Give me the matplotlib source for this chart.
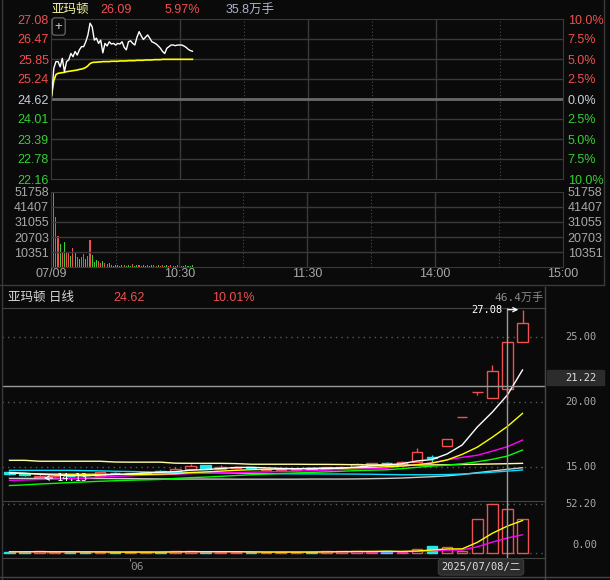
import matplotlib
matplotlib.use('Agg')
import matplotlib.pyplot as plt
from matplotlib.lines import Line2D
from matplotlib.patches import Rectangle

plt.rcParams['font.family'] = ['Liberation Sans', 'Noto Sans CJK SC', 'DejaVu Sans']
MONO = ['DejaVu Sans Mono', 'Noto Sans CJK SC']

BG = '#0a0a0a'
GRID = '#3a3a3a'
RED = '#ef5050'
GREEN = '#35d035'
CYAN = '#22e8e8'
GRAY = '#a8a8a8'

# ---- 分时数据 (07/09) ----
price_ticks = [27.08, 26.47, 25.85, 25.24, 24.62, 24.01, 23.39, 22.78, 22.16]
pct_labels = ['10.0%', '7.5%', '5.0%', '2.5%', '0.0%', '2.5%', '5.0%', '7.5%', '10.0%']
vol_ticks = [10351, 20703, 31055, 41407, 51758]
time_ticks = [0, 60, 120, 180, 240]
time_labels = ['07/09', '10:30', '11:30', '14:00', '15:00']

minute_price = [24.69, 25.56, 25.77, 25.77, 25.61, 25.87, 25.46, 25.77, 25.82, 26.02,
                25.92, 26.08, 25.97, 26.13, 26.23, 26.23, 26.38, 26.59, 26.95, 26.84,
                26.43, 26.49, 26.33, 26.43, 26.04, 26.33, 26.25, 26.38, 26.31, 26.33,
                26.28, 26.33, 26.31, 26.38, 26.21, 26.13, 26.38, 26.41, 26.33, 26.28,
                26.52, 26.69, 26.56, 26.45, 26.52, 26.59, 26.49, 26.38, 26.35, 26.31,
                26.25, 26.18, 26.08, 26.02, 26.18, 26.23, 26.28, 26.28, 26.26, 26.28,
                26.28, 26.28, 26.25, 26.21, 26.15, 26.11, 26.09]
minute_avg = [24.74, 25.18, 25.37, 25.41, 25.42, 25.43, 25.44, 25.46, 25.47, 25.48,
              25.49, 25.50, 25.51, 25.53, 25.54, 25.56, 25.59, 25.64, 25.71, 25.74,
              25.75, 25.75, 25.76, 25.76, 25.77, 25.77, 25.77, 25.77, 25.78, 25.78,
              25.78, 25.78, 25.79, 25.79, 25.79, 25.79, 25.80, 25.80, 25.80, 25.80,
              25.81, 25.81, 25.81, 25.81, 25.82, 25.82, 25.82, 25.82, 25.83, 25.83,
              25.83, 25.83, 25.84, 25.84, 25.84, 25.84, 25.84, 25.84, 25.84, 25.84,
              25.84, 25.84, 25.84, 25.84, 25.84, 25.84, 25.84]
minute_vol = [18600, 51300, 34700, 21400, 15900, 9900, 17500, 10600, 9400, 7600,
              12900, 10600, 6700, 5300, 7100, 9000, 5500, 7600, 18600, 8300,
              3700, 4800, 4100, 3000, 4100, 2500, 2000, 2500, 1200, 800,
              1500, 1300, 900, 1600, 1100, 700, 1400, 1000, 1800, 900,
              1500, 1200, 800, 1300, 1000, 1600, 900, 1100, 1400, 800,
              1200, 1000, 1300, 900, 1100, 800, 1200, 1000, 900, 1100,
              1400, 800, 1000, 1200, 900, 1000, 1100]
minute_dir = 'rrrrgrgrrgrgrgrrgrrgggrrgrrg' + 'ggggggrgggrggrgggrggrrgrrggrrggrrggrggg'

# ---- 日线数据 ----
k_open = [14.62, 14.44, 14.18, 14.25, 14.30, 14.40, 14.30, 14.55, 14.48, 14.55,
          14.70, 14.65, 14.82, 15.12, 14.84, 14.88, 14.95, 14.78, 14.75, 14.75,
          14.88, 14.85, 14.92, 15.00, 15.12, 15.27, 15.13, 15.34, 15.72, 16.58,
          18.80, 20.75, 20.31, 20.95, 24.62]
k_high = [14.65, 14.50, 14.50, 14.35, 14.38, 14.45, 14.60, 14.62, 14.55, 14.62,
          14.72, 15.00, 15.18, 15.15, 15.13, 15.03, 14.98, 14.92, 14.85, 14.88,
          14.92, 15.00, 15.05, 15.26, 15.30, 15.33, 15.44, 16.46, 15.90, 17.11,
          18.80, 20.75, 22.82, 24.62, 27.08]
k_low = [14.40, 14.30, 14.13, 14.18, 14.20, 14.30, 14.28, 14.48, 14.45, 14.52,
         14.58, 14.62, 14.80, 14.80, 14.80, 14.85, 14.85, 14.75, 14.70, 14.70,
         14.82, 14.82, 14.90, 14.98, 15.10, 15.20, 15.12, 15.34, 15.38, 16.58,
         18.80, 20.52, 20.31, 20.18, 24.62]
k_close = [14.44, 14.35, 14.25, 14.30, 14.28, 14.33, 14.57, 14.54, 14.52, 14.59,
           14.62, 14.83, 15.07, 14.82, 15.00, 14.98, 14.90, 14.85, 14.80, 14.82,
           14.85, 14.95, 15.00, 15.23, 15.28, 15.25, 15.34, 16.10, 15.70, 17.11,
           18.80, 20.75, 22.38, 24.62, 26.09]
ma5 = [14.55, 14.50, 14.42, 14.36, 14.32, 14.30, 14.35, 14.40, 14.45, 14.52,
       14.57, 14.62, 14.73, 14.78, 14.86, 14.94, 14.95, 14.91, 14.87, 14.85,
       14.84, 14.86, 14.89, 14.97, 15.07, 15.14, 15.23, 15.44, 15.55, 15.98,
       16.67, 18.05, 19.20, 20.52, 22.44]
ma10 = [14.50, 14.48, 14.45, 14.43, 14.42, 14.42, 14.42, 14.41, 14.40, 14.41,
        14.43, 14.46, 14.55, 14.60, 14.66, 14.72, 14.77, 14.80, 14.82, 14.85,
        14.88, 14.90, 14.91, 14.92, 14.95, 15.00, 15.05, 15.15, 15.28, 15.52,
        15.95, 16.50, 17.27, 18.10, 19.10]
ma20 = [13.95, 13.98, 14.02, 14.05, 14.08, 14.12, 14.20, 14.25, 14.30, 14.35,
        14.38, 14.42, 14.47, 14.50, 14.53, 14.55, 14.58, 14.60, 14.63, 14.66,
        14.70, 14.74, 14.78, 14.82, 14.85, 14.88, 15.05, 15.15, 15.30, 15.52,
        15.72, 15.88, 16.20, 16.54, 17.05]
ma30 = [13.55, 13.60, 13.67, 13.72, 13.78, 13.83, 13.88, 13.92, 13.96, 13.99,
        14.02, 14.10, 14.16, 14.20, 14.26, 14.32, 14.38, 14.43, 14.48, 14.52,
        14.56, 14.60, 14.65, 14.70, 14.73, 14.76, 14.85, 14.95, 15.05, 15.12,
        15.22, 15.38, 15.57, 15.82, 16.28]
ma60 = [15.49, 15.49, 15.42, 15.42, 15.42, 15.42, 15.42, 15.36, 15.35, 15.35,
        15.35, 15.27, 15.26, 15.26, 15.26, 15.24, 15.19, 15.19, 15.19, 15.19,
        15.18, 15.18, 15.17, 15.15, 15.14, 15.13, 15.13, 15.13, 15.14, 15.15,
        15.17, 15.19, 15.21, 15.23, 15.26]
ma120 = [14.72, 14.72, 14.72, 14.72, 14.72, 14.70, 14.68, 14.65, 14.63, 14.60,
         14.58, 14.56, 14.55, 14.53, 14.52, 14.50, 14.48, 14.47, 14.46, 14.45,
         14.45, 14.44, 14.44, 14.43, 14.42, 14.40, 14.38, 14.38, 14.38, 14.40,
         14.44, 14.50, 14.58, 14.66, 14.75]
ma250 = [14.10, 14.10, 14.10, 14.10, 14.10, 14.10, 14.09, 14.08, 14.08, 14.07,
         14.06, 14.05, 14.05, 14.05, 14.05, 14.04, 14.04, 14.04, 14.04, 14.04,
         14.05, 14.05, 14.05, 14.06, 14.08, 14.10, 14.13, 14.18, 14.23, 14.30,
         14.40, 14.54, 14.67, 14.80, 14.92]
day_vol = [1.5, 1.0, 2.0, 1.0, 1.0, 1.0, 1.2, 1.0, 1.0, 1.0,
           1.0, 2.0, 2.0, 1.2, 1.0, 1.0, 1.0, 1.0, 1.0, 1.0,
           1.0, 2.0, 2.0, 2.0, 1.5, 1.8, 1.4, 3.9, 7.5, 6.8,
           2.5, 35.9, 52.2, 46.4, 35.9]
vol_ma5 = [1.3, 1.3, 1.4, 1.3, 1.3, 1.2, 1.2, 1.0, 1.0, 1.0,
           1.0, 1.2, 1.4, 1.4, 1.4, 1.4, 1.2, 1.0, 1.0, 1.0,
           1.0, 1.2, 1.4, 1.6, 1.7, 1.9, 1.7, 2.1, 3.2, 4.3,
           4.4, 11.3, 21.0, 28.7, 34.6]
vol_ma10 = [1.3, 1.3, 1.3, 1.3, 1.3, 1.3, 1.2, 1.2, 1.2, 1.2,
            1.1, 1.2, 1.3, 1.3, 1.3, 1.3, 1.3, 1.3, 1.2, 1.2,
            1.2, 1.2, 1.3, 1.4, 1.4, 1.4, 1.4, 1.7, 2.4, 3.0,
            3.2, 6.6, 11.6, 16.0, 19.4]
k_ticks = [25.0, 20.0, 15.0]
cross_day = 33
cross_price = 21.22


def place(fig, x0, y0, x1, y1):
    # 像素坐标 -> figure 坐标
    ax = fig.add_axes([x0 / 610, 1 - y1 / 580, (x1 - x0) / 610, (y1 - y0) / 580])
    ax.set_facecolor(BG)
    return ax


def fig_line(fig, xs, ys, color=GRID, lw=1):
    fig.add_artist(Line2D([x / 610 for x in xs], [1 - y / 580 for y in ys],
                          color=color, lw=lw, transform=fig.transFigure))


def draw_intraday(fig):
    ax = place(fig, 51, 19, 563, 179)
    axv = place(fig, 51, 192, 563, 267)
    for a in (ax, axv):
        a.set_xlim(-0.3, 239.7)
        for s in a.spines.values():
            s.set_color(GRID)
        for m in (60, 120, 180):
            a.axvline(m, color=GRID, lw=1)
        for m in (30, 90, 150, 210):
            a.axvline(m, color='#4a4a4a', lw=0.8, ls=(0, (1, 2)))
        a.tick_params(length=0)

    ax.set_ylim(22.16, 27.08)
    for p in price_ticks[1:-1]:
        if p == 24.62:
            ax.axhline(p, color='#6a6a6a', lw=2)
        else:
            ax.axhline(p, color=GRID, lw=1)
    mins = list(range(len(minute_price)))
    ax.plot(mins, minute_avg, color='#ffff00', lw=1.2)
    ax.plot(mins, minute_price, color='white', lw=1.0)
    ax.set_xticks([])
    ax.set_yticks(price_ticks)
    ax.set_yticklabels([f'{p:.2f}' for p in price_ticks], fontsize=9)
    ax.tick_params(axis='y', pad=1.5)
    ax2 = ax.twinx()
    ax2.set_ylim(22.16, 27.08)
    ax2.set_yticks(price_ticks)
    ax2.set_yticklabels(pct_labels, fontsize=9)
    ax2.tick_params(length=0, pad=3.4)
    for s in ax2.spines.values():
        s.set_visible(False)
    for lab_set in (ax.get_yticklabels(), ax2.get_yticklabels()):
        for i, t in enumerate(lab_set):
            t.set_color(RED if i < 4 else ('#c8d0dc' if i == 4 else GREEN))

    ax.text(0.015, 0.953, '+', transform=ax.transAxes, color='#d0d0d0', fontsize=9.5,
            ha='center', va='center',
            bbox=dict(boxstyle='round,pad=0.2', fc=BG, ec='#707070', lw=0.8))

    axv.set_ylim(0, 51758)
    for v in vol_ticks[:-1]:
        axv.axhline(v, color=GRID, lw=1)
    cols = [RED if d == 'r' else GREEN for d in minute_dir]
    axv.bar(mins, minute_vol, width=0.5, color=cols[:len(mins)], lw=0)
    axv.set_yticks(vol_ticks)
    axv.set_yticklabels([str(v) for v in vol_ticks], fontsize=9, color=GRAY)
    axv.tick_params(axis='y', pad=1.5)
    axv.set_xticks(time_ticks)
    axv.set_xticklabels(time_labels, fontsize=9, color=GRAY)
    axv.tick_params(axis='x', pad=1)
    axv2 = axv.twinx()
    axv2.set_ylim(0, 51758)
    axv2.set_yticks(vol_ticks)
    axv2.set_yticklabels([str(v) for v in vol_ticks], fontsize=9, color=GRAY)
    axv2.tick_params(length=0, pad=3.4)
    for s in axv2.spines.values():
        s.set_visible(False)

    # 标题行
    fig.text(51 / 610, 1 - 10 / 580, '亚玛顿', color='#f2f29a', fontsize=9, va='center')
    fig.text(100 / 610, 1 - 10 / 580, f'{minute_price[-1]:.2f}', color=RED, fontsize=9, va='center')
    fig.text(165 / 610, 1 - 10 / 580, '5.97%', color=RED, fontsize=9, va='center')
    fig.text(226 / 610, 1 - 10 / 580, '35.8万手', color='#a8b4c8', fontsize=9, va='center')


def draw_daily(fig):
    ax = place(fig, 2, 308, 545, 501)
    axv = place(fig, 2, 501, 545, 558)
    days = list(range(len(k_close)))
    for a in (ax, axv):
        a.set_xlim(-0.497, 35.49)
        for s in a.spines.values():
            s.set_color('#444444')
        a.spines['left'].set_visible(False)
        a.set_yticks([])
    ax.spines['bottom'].set_visible(False)
    ax.set_ylim(12.362, 27.208)
    axv.set_ylim(-5.33, 55.4)

    for v in k_ticks:
        ax.axhline(v, color='#5a5a5a', lw=1, ls=(0, (1, 3)))
        ax.annotate(f'{v:.2f}', xy=(1, v), xycoords=('axes fraction', 'data'),
                    xytext=(52, 0), textcoords='offset pixels', ha='right', va='center',
                    color=GRAY, fontsize=7.5, family=MONO)

    for i in days:
        o, h, l, c = k_open[i], k_high[i], k_low[i], k_close[i]
        up = c >= o
        col = RED if up else CYAN
        ax.vlines(i, l, h, color=col, lw=1, zorder=2)
        ax.bar(i, abs(c - o), bottom=min(o, c), width=0.7,
               facecolor=BG if up else col, edgecolor=col, lw=1, zorder=3)
        axv.bar(i, day_vol[i], width=0.7, facecolor=BG if up else col,
                edgecolor=col, lw=1, zorder=2)

    ma_styles = [(ma250, '#c8c8c8'), (ma120, '#00e0ff'), (ma60, '#ffffa0'),
                 (ma30, '#00ff00'), (ma20, '#ff00ff'), (ma10, '#ffff00'), (ma5, '#ffffff')]
    for vals, col in ma_styles:
        ax.plot(days, vals, color=col, lw=1.0, zorder=4)

    ax.annotate('27.08', xy=(34, 27.08), xytext=(-20, 0), textcoords='offset pixels',
                ha='right', va='center', color='white', fontsize=7.5, family=MONO,
                arrowprops=dict(arrowstyle='->', color='white', lw=0.9, shrinkA=2, shrinkB=3),
                zorder=6)
    ax.annotate('14.13', xy=(2, 14.13), xytext=(17, 0), textcoords='offset pixels',
                ha='left', va='center', color='white', fontsize=7.5, family=MONO,
                arrowprops=dict(arrowstyle='->', color='white', lw=0.9, shrinkA=1, shrinkB=3),
                zorder=6)

    # 十字光标
    ax.axvline(cross_day, color='#9a9a9a', lw=1, zorder=5)
    axv.axvline(cross_day, color='#9a9a9a', lw=1, zorder=5)
    ax.axhline(cross_price, color='#9a9a9a', lw=1, zorder=5)
    fig.add_artist(Rectangle((547 / 610, 1 - 385 / 580), 57 / 610, 15 / 580,
                             transform=fig.transFigure, color='#2c2c2c', zorder=-1))
    ax.annotate(f'{cross_price:.2f}', xy=(1, cross_price), xycoords=('axes fraction', 'data'),
                xytext=(52, 8), textcoords='offset pixels', ha='right', va='center',
                color='#e0e0e0', fontsize=7.5, family=MONO, annotation_clip=False)

    axv.plot(days, vol_ma10, color='#ff00ff', lw=1.0, zorder=4)
    axv.plot(days, vol_ma5, color='#ffff00', lw=1.0, zorder=4)
    for v in (52.2, 0.0):
        axv.axhline(v, color='#5a5a5a', lw=1, ls=(0, (1, 3)), zorder=1)
    axv.annotate('52.20', xy=(1, 52.2), xycoords=('axes fraction', 'data'), xytext=(52, 0),
                 textcoords='offset pixels', ha='right', va='center', color=GRAY,
                 fontsize=7.5, family=MONO)
    axv.annotate('0.00', xy=(1, 0.0), xycoords=('axes fraction', 'data'), xytext=(52, 8),
                 textcoords='offset pixels', ha='right', va='center', color=GRAY,
                 fontsize=7.5, family=MONO)
    axv.set_xticks([8])
    axv.set_xticklabels(['06'], fontsize=8, color='#909090', family=MONO, ha='left')
    axv.tick_params(axis='x', length=2, color='#909090', pad=1)

    fig.text(481 / 610, 1 - 567 / 580, '2025/07/08/二', color='#e0e0e0', fontsize=7.5,
             family=MONO, ha='center', va='center',
             bbox=dict(boxstyle='round,pad=0.3', fc='#2c2c2c', ec='#3c3c3c', lw=0.8))

    # 标题行
    fig.text(8 / 610, 1 - 298 / 580, '亚玛顿 日线', color='#d8d8d8', fontsize=9, va='center')
    fig.text(113 / 610, 1 - 298 / 580, f'{k_close[cross_day]:.2f}', color=RED, fontsize=9, va='center')
    fig.text(212 / 610, 1 - 298 / 580, '10.01%', color=RED, fontsize=9, va='center')
    fig.text(544 / 610, 1 - 298 / 580, f'{day_vol[cross_day]:.1f}万手', color='#8a8a8a',
             fontsize=8, family=MONO, ha='right', va='center')


def Main():
    fig = plt.figure(figsize=(6.1, 5.8), dpi=100, facecolor=BG)
    draw_intraday(fig)
    draw_daily(fig)
    # 边框
    fig_line(fig, [604, 604], [0, 285])
    fig_line(fig, [0, 604], [285, 285])
    fig_line(fig, [1.5, 1.5], [0, 580])
    fig_line(fig, [545, 545], [287, 580], color='#444444')
    fig_line(fig, [0, 610], [577, 577], color='#444444')
    fig.savefig('out.png', dpi=100, facecolor=BG)


if __name__ == '__main__':
    Main()
